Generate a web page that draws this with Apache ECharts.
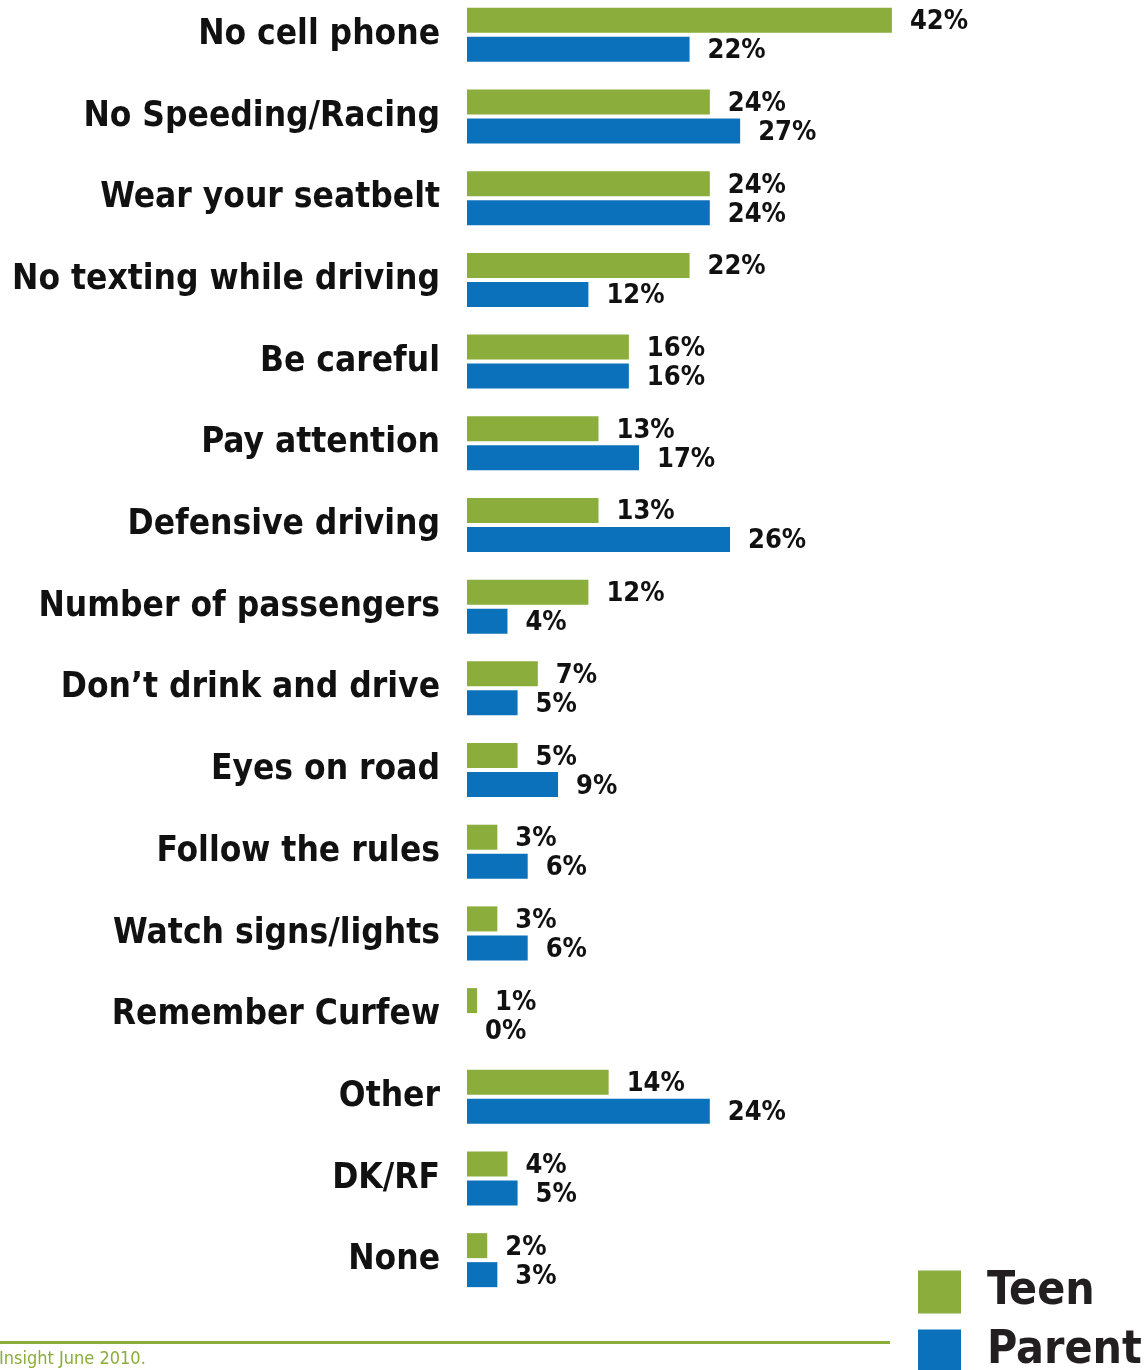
<!DOCTYPE html>
<html>
<head>
<meta charset="utf-8">
<script src="https://cdn.jsdelivr.net/npm/echarts@6/dist/echarts.min.js"></script>
<style>html,body{margin:0;padding:0;background:#fff;}#c{width:1146px;height:1370px;}</style>
</head>
<body>
<div id="c"></div>
<script>
const categories = ["No cell phone","No Speeding/Racing","Wear your seatbelt","No texting while driving","Be careful","Pay attention","Defensive driving","Number of passengers","Don\u2019t drink and drive","Eyes on road","Follow the rules","Watch signs/lights","Remember Curfew","Other","DK/RF","None"];
const teen =   [42,24,24,22,16,13,13,12,7,5,3,3,1,14,4,2];
const parent = [22,27,24,12,16,17,26,4,5,9,6,6,0,24,5,3];
const seriesNames = ["Teen","Parent"];
const footerText = "Insight June 2010.";

const FONT = "'Liberation Sans Narrow','DejaVu Sans Condensed','Arial Narrow',sans-serif";
const GREEN = '#8aad3b';
const BLUE = '#0b71ba';

const chart = echarts.init(document.getElementById('c'));
const valLabel = {
  show: true, position: 'right', distance: 18, offset: [0, 2],
  formatter: p => p.value + '%',
  fontFamily: FONT, fontWeight: 'bold', fontSize: 27, color: '#111'
};
const legendBase = {
  orient: 'vertical', left: 918, padding: 0,
  itemWidth: 43, itemHeight: 43, icon: 'rect',
  textStyle: { fontFamily: FONT, fontWeight: 'bold', fontSize: 46, color: '#231f20', padding: [0,0,0,21] }
};
chart.setOption({
  animation: false,
  backgroundColor: '#fff',
  grid: { left: 467, right: 72, top: -6, bottom: 69, containLabel: false, outerBoundsMode: 'none' },
  xAxis: { type: 'value', min: 0, max: 60, show: false },
  yAxis: {
    type: 'category', data: categories, inverse: true,
    axisLine: { show: false }, axisTick: { show: false }, splitLine: { show: false },
    axisLabel: { margin: 27, fontFamily: FONT, fontWeight: 'bold', fontSize: 35, color: '#111' }
  },
  legend: [
    Object.assign({}, legendBase, { top: 1269, data: [seriesNames[0]] }),
    Object.assign({}, legendBase, { top: 1328, data: [seriesNames[1]] })
  ],
  series: [
    { name: seriesNames[0], type: 'bar', data: teen, barWidth: 25, barGap: '16%', itemStyle: { color: GREEN }, label: valLabel },
    { name: seriesNames[1], type: 'bar', data: parent, barWidth: 25, barGap: '16%', itemStyle: { color: BLUE }, label: valLabel }
  ],
  graphic: [
    { type: 'rect', shape: { x: 0, y: 1341, width: 890, height: 3 }, style: { fill: GREEN } },
    { type: 'text', x: -1, y: 1350, style: { text: footerText, fontFamily: FONT, fontSize: 18, fill: GREEN } }
  ]
});
</script>
</body>
</html>
